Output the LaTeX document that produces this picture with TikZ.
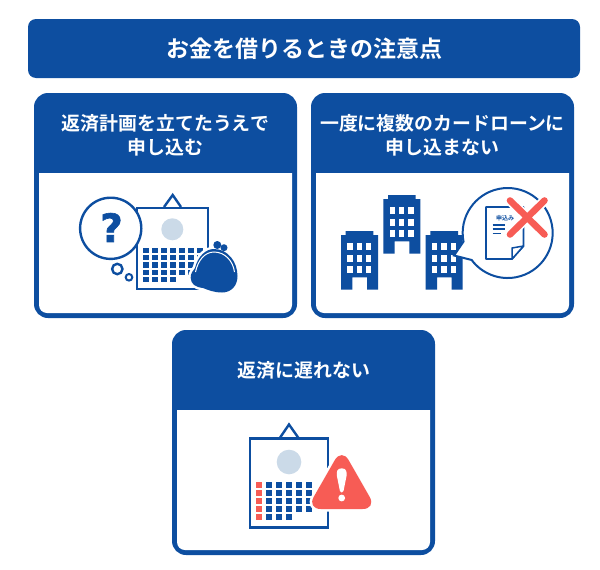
\documentclass[tikz,border=0pt]{standalone}
\usepackage{fontspec}
\usepackage{tikz}
\newfontfamily\jpfont{Noto Sans CJK JP}[BoldFont=* Bold]
\newfontfamily\markfont{DejaVu Sans}[BoldFont=* Bold, BoldFeatures={FakeBold=1.6}]
\definecolor{mainblue}{HTML}{0D4EA0}
\definecolor{paleblue}{HTML}{CBDAE8}
\definecolor{alertred}{HTML}{F75C55}
\tikzset{
  titlebar/.style={fill=mainblue, rounded corners=8pt, minimum width=552pt, minimum height=59pt, text=white, font=\jpfont\bfseries\fontsize{23}{26}\selectfont},
  cardlabel/.style={text=white, align=center, font=\jpfont\bfseries\fontsize{18.9}{24.5}\selectfont},
  outline/.style={draw=mainblue, line width=2.4pt, fill=white},
  cell/.style={fill=mainblue},
  redcell/.style={fill=alertred}
}
\begin{document}
\begin{tikzpicture}[x=1pt, y=-1pt]
\useasboundingbox (0,0) rectangle (600,570);
\node[titlebar] (title) at (304,48.5) {お金を借りるときの注意点};

\fill[mainblue, rounded corners=14pt] (34,93) rectangle (297,318);
\fill[white] (39,173) -- (292,173) -- (292,305) arc (0:90:8) -- (47,313) arc (90:180:8) -- cycle;
\fill[mainblue, rounded corners=14pt] (311,93) rectangle (574,318);
\fill[white] (316,173) -- (569,173) -- (569,305) arc (0:90:8) -- (324,313) arc (90:180:8) -- cycle;
\fill[mainblue, rounded corners=14pt] (172,330) rectangle (435,555);
\fill[white] (177,410) -- (430,410) -- (430,542) arc (0:90:8) -- (185,550) arc (90:180:8) -- cycle;

\node[cardlabel] (plan) at (165.5,135.5) {返済計画を立てたうえで\\申し込む};
\node[cardlabel] (multi) at (442.5,135.5) {一度に複数のカードローンに\\申し込まない};
\node[cardlabel] (late) at (304,370.5) {返済に遅れない};

% calendar and purse
\coordinate (A) at (164,207) ;
\coordinate (B) at (172.7,195) ;
\coordinate (C) at (181,207) ;
\draw[outline, fill=none] (A) -- (B) -- (C) ;
\draw[outline] (137,208) rectangle (208,289) ;
\fill[paleblue] (172.3,229.3) circle (11) ;
\foreach \row in {0,...,3}
  \foreach \col in {0,...,6}
    \fill[cell] (142.7+9*\col,247.7+7.3*\row) rectangle +(5.9,5.2) ;
\foreach \col in {0,...,3}
  \fill[cell] (142.7+9*\col,247.7+7.3*4) rectangle +(5.9,5.2) ;
\draw[outline] (110.7,228.3) circle (30.6) ;
\node[text=mainblue, font=\markfont\bfseries\fontsize{39}{39}\selectfont] (question) at (111.5,227.5) {?} ;
\draw[outline] (117.3,269) circle (5.2) ;
\draw[outline, line width=2pt] (129,277.3) circle (3.3) ;
\fill[mainblue, preaction={draw=white, line width=5pt}] (190.7,278) .. controls (190.5,273) and (193,271) .. (195,268)
  .. controls (198,256) and (206,249) .. (214,249)
  .. controls (228,249) and (237.5,262) .. (237.5,276)
  .. controls (237.5,286) and (231,292.5) .. (222,292.5)
  .. controls (214,292.5) and (208,290) .. (203,288)
  .. controls (195,287) and (191,284) .. (190.7,278) -- cycle ;
\fill[mainblue] (217.3,245) circle (4) ;
\fill[mainblue] (224,247.7) circle (3.5) ;
\draw[white, line width=1pt] (195.5,272) .. controls (198,260) and (205,252) .. (214,252)
  .. controls (225,252) and (233,261) .. (234.5,272) ;

% three buildings and application form
\foreach \dx/\dy in {0/0,42.3/-36,84.7/0} {
  \begin{scope}[shift={(\dx,\dy)}]
    \fill[mainblue] (341,235) -- (345.7,235) -- (345.7,231) -- (373.3,231) -- (373.3,235) -- (378,235) -- (378,289.5) -- (367,289.5) -- (367,277.3) -- (352.3,277.3) -- (352.3,289.5) -- (341,289.5) -- cycle ;
    \foreach \wx in {347.3,356.7,366}
      \foreach \wy in {243.3,254.7,266}
        \fill[white] (\wx,\wy) rectangle +(5.3,7) ;
  \end{scope}
}
\coordinate (tail) at (454,255.5) ;
\draw[outline, line width=2pt] (tail) -- (463.5,241.6) arc (169:503.2:45) -- cycle ;
\draw[outline, line width=1.8pt, line join=round] (486,207) -- (523.5,207) -- (523.5,246) -- (512,259) -- (486,259) -- cycle ;
\draw[mainblue, line width=1.5pt, fill=white, line join=round] (523.5,246) -- (512,259) -- (512,248) -- cycle ;
\node[text=mainblue, inner sep=0pt, font=\jpfont\bfseries\fontsize{6}{6}\selectfont] (form) at (505,218.3) {申込み} ;
\draw[mainblue, line width=1.2pt] (492.7,225) -- (505,225) (492.7,229) -- (505,229) (492.7,233.3) -- (500.7,233.3) ;
\draw[white, line width=10pt, line cap=round] (510,200.5) -- (544.5,234.5) (544.5,200.5) -- (510,234.5) ;
\draw[alertred, line width=6.6pt, line cap=round] (510,200.5) -- (544.5,234.5) (544.5,200.5) -- (510,234.5) ;

% calendar and warning sign
\coordinate (D) at (280,437.7) ;
\coordinate (E) at (289,424.5) ;
\coordinate (F) at (298.3,437.7) ;
\draw[outline, fill=none] (D) -- (E) -- (F) ;
\draw[outline] (250,438.3) rectangle (327.7,527.3) ;
\fill[paleblue] (289,462) circle (12.3) ;
\foreach \row in {0,...,3} {
  \fill[redcell] (256,482.3+8*\row) rectangle +(6.3,5.7) ;
  \foreach \col in {1,...,5}
    \fill[cell] (256+10*\col,482.3+8*\row) rectangle +(6.3,5.7) ;
}
\fill[redcell] (256,514.3) rectangle +(6.3,5.7) ;
\foreach \col in {1,...,3}
  \fill[cell] (256+10*\col,514.3) rectangle +(6.3,5.7) ;
\fill[alertred, preaction={draw=white, line width=5pt}, rounded corners=14pt] (341.7,448) -- (376.6,509) -- (306.8,509) -- cycle ;
\fill[white] (341.7,468.3) .. controls (346.5,468.3) and (347,472) .. (346.5,476) -- (343.5,491) .. controls (343.2,493) and (340.2,493) .. (339.9,491) -- (336.9,476) .. controls (336.4,472) and (336.9,468.3) .. (341.7,468.3) -- cycle ;
\fill[white] (341.7,498) circle (3.4) ;
\end{tikzpicture}
\end{document}
